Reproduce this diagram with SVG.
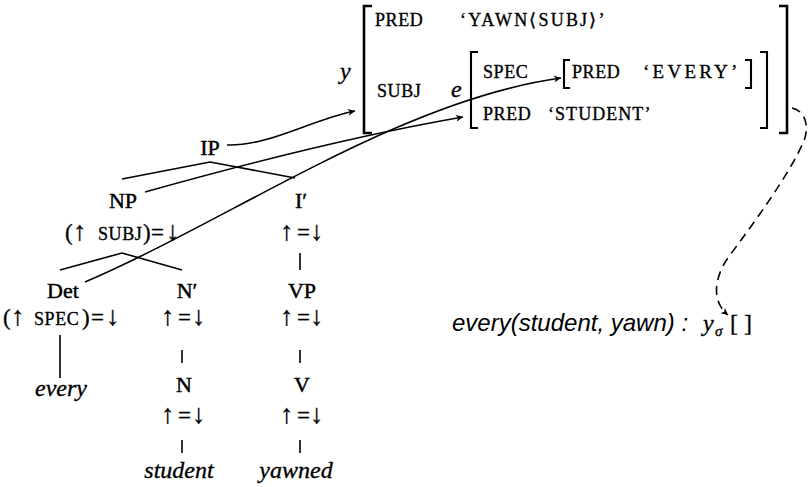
<svg xmlns="http://www.w3.org/2000/svg" width="809" height="487" viewBox="0 0 809 487">
<style>
.lbl{font-family:"Liberation Serif","Times New Roman",serif;font-size:22px;fill:#000;stroke:#000;stroke-width:0.45;text-anchor:middle}
.sc{font-family:"Liberation Serif","Times New Roman",serif;font-size:18px;letter-spacing:0.6px;fill:#000;stroke:#000;stroke-width:0.35}
.sym{font-family:"Liberation Serif","DejaVu Serif",serif;font-size:23px;fill:#000;stroke:#000;stroke-width:0.3}
.ar{font-size:27px}
.it{font-family:"Liberation Serif","Times New Roman",serif;font-style:italic;font-size:24px;fill:#000;stroke:#000;stroke-width:0.35}
.ss{font-family:"Liberation Sans",Arial,sans-serif;font-style:italic;font-size:24px;fill:#000}
.tl{stroke:#000;stroke-width:1.6;fill:none}
.br{stroke:#000;stroke-width:2.6;fill:none}
.bri{stroke:#000;stroke-width:2.1;fill:none}
.arr{stroke:#000;stroke-width:1.6;fill:none;marker-end:url(#ah)}
.dash{stroke:#000;stroke-width:1.6;fill:none;stroke-dasharray:9 6;marker-end:url(#ah)}
</style>
<defs>
<marker id="ah" viewBox="0 0 10 10" refX="10" refY="5" markerWidth="12" markerHeight="7" markerUnits="userSpaceOnUse" orient="auto">
<path d="M0,0 L10,5 L0,10 L3,5 z" fill="#000"/>
</marker>
</defs>

<g id="fstructure">
<path class="br" d="M372,6 L364,6 L364,133 L372,133"/>
<path class="br" d="M779,6 L787,6 L787,133 L779,133"/>
<text class="it" x="340" y="79">y</text>
<text class="sc" x="375" y="26">PRED</text>
<text class="sc" x="460" y="26" textLength="145" lengthAdjust="spacing">‘YAWN⟨SUBJ⟩’</text>
<text class="sc" x="377" y="97">SUBJ</text>
<text class="it" x="451" y="97">e</text>
<path class="bri" d="M478,52 L471,52 L471,128 L478,128"/>
<path class="bri" d="M760,52 L767,52 L767,128 L760,128"/>
<text class="sc" x="483" y="78">SPEC</text>
<path class="bri" d="M570,60 L564,60 L564,88 L570,88"/>
<path class="bri" d="M745,60 L751,60 L751,88 L745,88"/>
<text class="sc" x="572" y="78">PRED</text>
<text class="sc" x="643" y="78" style="font-size:19px" textLength="95" lengthAdjust="spacing">‘EVERY’</text>
<text class="sc" x="483" y="120">PRED</text>
<text class="sc" x="548" y="120" textLength="103" lengthAdjust="spacing">‘STUDENT’</text>
</g>

<g id="IP"><text class="lbl" x="210" y="155">IP</text></g>
<g id="NP">
<text class="lbl" x="123" y="208">NP</text>
<text class="sym" y="240"><tspan x="65">(</tspan><tspan class="ar" x="73">↑</tspan><tspan class="sc" x="98">SUBJ</tspan><tspan x="143">)</tspan><tspan x="151">=</tspan><tspan class="ar" x="166">↓</tspan></text>
</g>
<g id="Ibar">
<text class="lbl" x="301" y="208">I′</text>
<text class="sym" y="240"><tspan class="ar" x="280">↑</tspan><tspan x="297">=</tspan><tspan class="ar" x="310">↓</tspan></text>
</g>
<g id="Det">
<text class="lbl" x="63" y="298">Det</text>
<text class="sym" y="325"><tspan x="3">(</tspan><tspan class="ar" x="11">↑</tspan><tspan class="sc" x="34">SPEC</tspan><tspan x="82">)</tspan><tspan x="91">=</tspan><tspan class="ar" x="106">↓</tspan></text>
</g>
<g id="every"><text class="it" x="61" y="396" text-anchor="middle">every</text></g>
<g id="Nbar">
<text class="lbl" x="187" y="298">N′</text>
<text class="sym" y="325"><tspan class="ar" x="161">↑</tspan><tspan x="178">=</tspan><tspan class="ar" x="192">↓</tspan></text>
</g>
<g id="N">
<text class="lbl" x="184" y="392">N</text>
<text class="sym" y="423"><tspan class="ar" x="161">↑</tspan><tspan x="178">=</tspan><tspan class="ar" x="192">↓</tspan></text>
</g>
<g id="student"><text class="it" x="179" y="478" text-anchor="middle">student</text></g>
<g id="VP">
<text class="lbl" x="302" y="298">VP</text>
<text class="sym" y="325"><tspan class="ar" x="280">↑</tspan><tspan x="297">=</tspan><tspan class="ar" x="310">↓</tspan></text>
</g>
<g id="V">
<text class="lbl" x="302" y="392">V</text>
<text class="sym" y="423"><tspan class="ar" x="280">↑</tspan><tspan x="297">=</tspan><tspan class="ar" x="310">↓</tspan></text>
</g>
<g id="yawned"><text class="it" x="296" y="478" text-anchor="middle">yawned</text></g>

<g id="semantics">
<text class="ss" x="452" y="331">every(student, yawn) :</text>
<text class="it" x="703" y="331">y</text>
<text class="it" x="715" y="336" style="font-size:15px">σ</text>
<text class="sym" x="730" y="331" style="font-size:24px">[ ]</text>
</g>

<g id="connectors">
<path class="tl" d="M122,179 L210,162 L295,178"/>
<path class="tl" d="M60,270 L122,253 L182,270"/>
<path class="tl" d="M300,253 L300,270"/>
<path class="tl" d="M60,335 L60,378"/>
<path class="tl" d="M182,350 L182,363"/>
<path class="tl" d="M300,350 L300,363"/>
<path class="tl" d="M182,440 L182,453"/>
<path class="tl" d="M300,440 L300,453"/>
<path class="arr" d="M227,145 C270,146 310,120 355,111"/>
<path class="arr" d="M145,192 Q330,140 463,117"/>
<path class="arr" d="M85,282 C230,220 400,100 561,78"/>
<path class="dash" d="M792,108 C806,111 810,128 803,143 C790,172 760,215 730,255 C715,275 710,300 728,315"/>
</g>
</svg>
